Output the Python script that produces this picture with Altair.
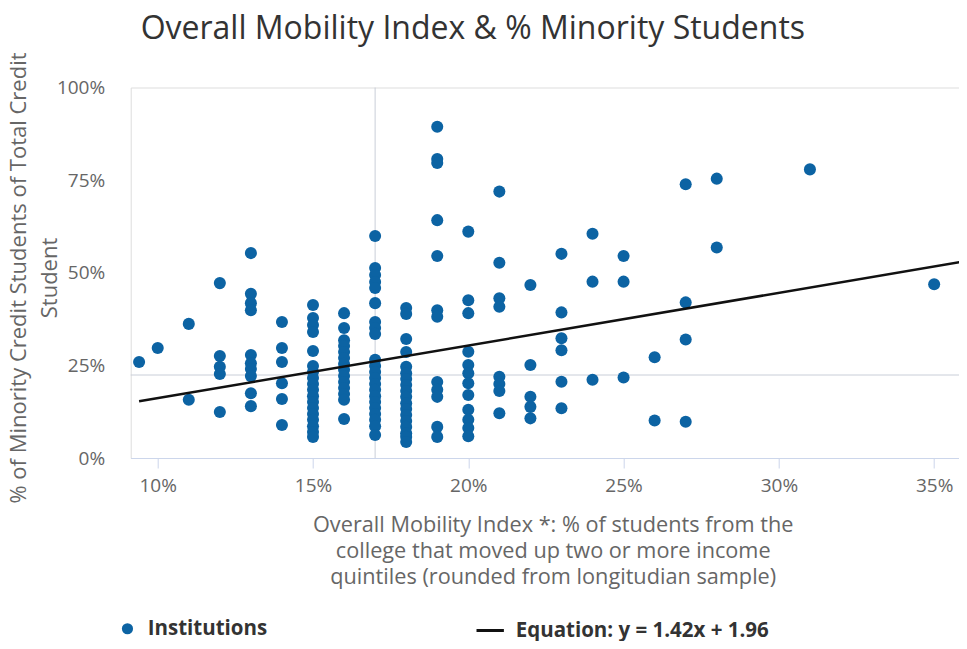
import altair as alt
import pandas as pd

# ---- data ----
mobility_cols = [9.4, 10, 11, 12, 13, 14, 15, 16, 17, 18, 19, 20, 21, 22, 23, 24, 25, 26, 27, 28, 31, 35, 36]
minority_by_col = [
    [25.9],
    [29.7],
    [36.2, 15.7],
    [47.2, 27.5, 24.6, 22.7, 12.4],
    [55.3, 44.3, 41.8, 39.9, 27.8, 25.6, 24.0, 22.1, 17.5, 14.0],
    [36.7, 29.7, 25.9, 20.2, 15.9, 8.9],
    [41.3, 37.8, 35.9, 34.0, 28.9, 24.8, 23.2, 21.6, 20.0, 18.4, 16.7, 15.1, 13.5, 11.9, 10.3, 8.6, 7.0, 5.7],
    [39.1, 35.1, 31.8, 30.2, 28.6, 27.0, 25.4, 23.8, 22.1, 20.5, 18.9, 17.3, 15.7, 10.5],
    [59.9, 51.3, 49.4, 47.5, 45.9, 41.8, 36.7, 35.1, 33.5, 26.5, 24.8, 23.2, 21.6, 20.0, 18.4, 16.7, 15.1, 13.5, 11.9, 10.3, 8.6, 6.2],
    [40.5, 38.9, 32.1, 28.6, 24.6, 22.9, 21.3, 19.7, 18.1, 16.5, 14.8, 13.2, 11.6, 10.0, 8.4, 6.7, 5.7, 4.3],
    [89.4, 80.7, 79.6, 64.2, 54.5, 39.9, 38.1, 20.5, 18.4, 16.5, 8.4, 5.7],
    [61.1, 42.6, 39.1, 28.7, 25.1, 22.9, 20.2, 17.0, 13.0, 10.3, 8.1, 5.9],
    [71.9, 52.7, 43.1, 40.8, 21.9, 20.0, 18.1, 12.1],
    [46.7, 25.1, 16.5, 13.8, 10.7],
    [55.1, 39.3, 32.3, 29.1, 20.6, 13.4],
    [60.5, 47.6, 21.1],
    [54.5, 47.6, 21.7],
    [27.2, 10.1],
    [73.9, 42.0, 32.0, 9.8],
    [75.4, 56.8],
    [77.9],
    [46.9],
    [84.9],
]

trend_x = [9.4, 36.0]
trend_y = [15.3, 53.1]
mean_x = [17.0]
mean_y = [22.4]

x_ticks = [10, 15, 20, 25, 30, 35]
y_ticks = [0, 25, 50, 75, 100]

series_points = "Institutions"
series_line = "Equation: y = 1.42x + 1.96"

rows = []
for xv, ys in zip(mobility_cols, minority_by_col):
    for yv in ys:
        rows.append({"mobility": xv, "minority": yv, "series": series_points})
points_df = pd.DataFrame(rows)
line_df = pd.DataFrame({"mobility": trend_x, "minority": trend_y, "series": [series_line] * len(trend_x)})
mx_df = pd.DataFrame({"mobility": mean_x})
my_df = pd.DataFrame({"minority": mean_y})

FONT = "Open Sans"
BLUE = "#0c63a3"
PLOTLINE = "#c9ced8"

x_scale = alt.Scale(domain=[9.13, 35.8], nice=False, zero=False)
y_scale = alt.Scale(domain=[0, 100], nice=False)

x_axis = alt.Axis(
    values=x_ticks, labelExpr="datum.value + '%'", grid=False,
    domainColor="#ccd6eb", tickColor="#ccd6eb", tickSize=10, labelPadding=8,
    labelFont=FONT, labelFontSize=19, labelColor="#666666",
    title=["Overall Mobility Index *: % of students from the",
           "college that moved up two or more income",
           "quintiles (rounded from longitudian sample)"],
    titleFont=FONT, titleFontSize=21.7, titleFontWeight="normal", titleColor="#666666",
    titleLineHeight=26, titleX=422, titleY=73, titleBaseline="alphabetic", titleAlign="center",
)
y_axis = alt.Axis(
    values=y_ticks, labelExpr="datum.value + '%'", grid=False, domain=False, ticks=False,
    tickSize=0, labelPadding=26, labelFont=FONT, labelFontSize=19, labelColor="#666666",
    title=["% of Minority Credit Students of Total Credit", "Student"],
    titleFont=FONT, titleFontSize=22, titleFontWeight="normal", titleColor="#666666",
    titleLineHeight=31, titleX=-105.5, titleY=190, titleAngle=270,
    titleBaseline="alphabetic", titleAlign="center",
)

vline = alt.Chart(mx_df).mark_rule(color=PLOTLINE, strokeWidth=1).encode(
    x=alt.X("mobility:Q", scale=x_scale, axis=x_axis)
)
hline = alt.Chart(my_df).mark_rule(color=PLOTLINE, strokeWidth=1).encode(
    y=alt.Y("minority:Q", scale=y_scale, axis=y_axis)
)

points = alt.Chart(points_df).mark_circle(size=145, opacity=1, clip=True).encode(
    x=alt.X("mobility:Q", scale=x_scale, axis=x_axis),
    y=alt.Y("minority:Q", scale=y_scale, axis=y_axis),
    color=alt.Color(
        "series:N",
        scale=alt.Scale(domain=[series_points], range=[BLUE]),
        legend=alt.Legend(
            title=None, orient="none", legendX=-13.5, legendY=531, symbolType="circle",
            symbolSize=125, labelOffset=10, padding=0, labelFont=FONT, labelFontSize=20.5,
            labelFontWeight="bold", labelColor="#333333", symbolStrokeWidth=0, labelLimit=0,
        ),
    ),
)

trend = alt.Chart(line_df).mark_line(strokeWidth=2.5, clip=True).encode(
    x=alt.X("mobility:Q", scale=x_scale, axis=x_axis),
    y=alt.Y("minority:Q", scale=y_scale, axis=y_axis),
    stroke=alt.Stroke(
        "series:N",
        scale=alt.Scale(domain=[series_line], range=["#111111"]),
        legend=alt.Legend(
            title=None, orient="none", legendX=344, legendY=527.5, symbolType="stroke",
            symbolSize=750, symbolStrokeWidth=3, labelOffset=10, padding=0, labelFont=FONT,
            labelFontSize=20.5, labelFontWeight="bold", labelColor="#333333", labelLimit=0,
        ),
    ),
)

chart = alt.layer(vline, hline, points, trend).properties(
    width=828.3,
    height=370.5,
    autosize=alt.AutoSizeParams(type="none"),
    padding={"left": 122.7, "top": 79.5, "right": 0, "bottom": 183},
    title=alt.TitleParams(
        text="Overall Mobility Index & % Minority Students",
        font=FONT, fontSize=32, fontWeight="normal", color="#333333",
        anchor="middle", dx=-72, dy=29.5, baseline="alphabetic", offset=10,
    ),
).configure_view(stroke=None).configure(background="white")

chart.save("out.html", embed_options={"renderer": "svg", "actions": False})
